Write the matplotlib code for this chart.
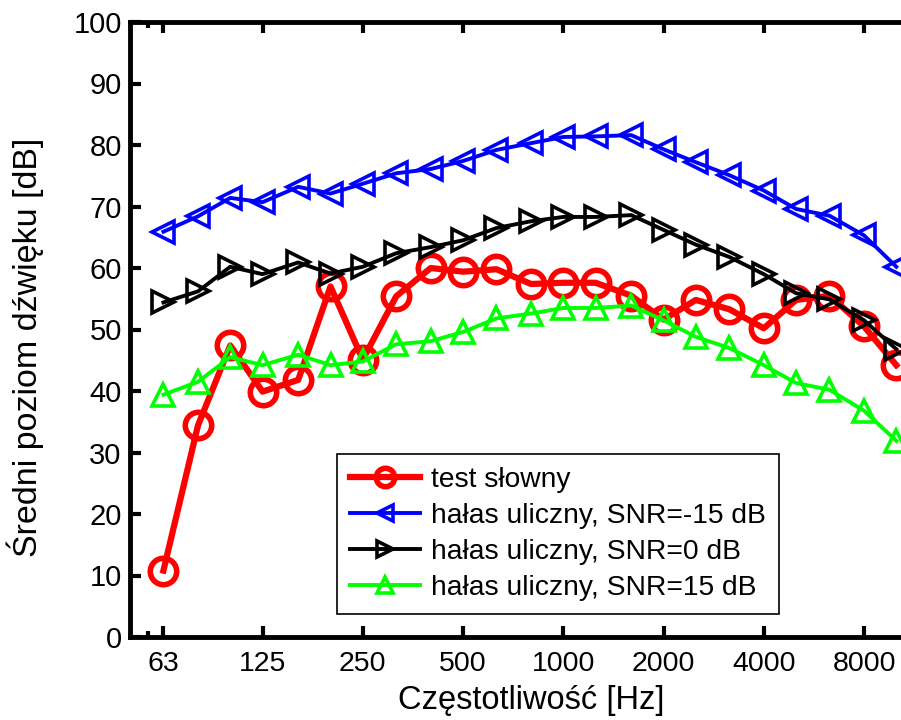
import numpy as np
import matplotlib
matplotlib.use('Agg')
from matplotlib import pyplot as plt
from matplotlib.ticker import FixedLocator, FixedFormatter, NullFormatter

# pasma tercjowe [Hz]
freq = [63, 80, 100, 125, 160, 200, 250, 315, 400, 500, 630, 800,
        1000, 1250, 1600, 2000, 2500, 3150, 4000, 5000, 6300, 8000, 10000]

test_slowny = [10.8, 34.4, 47.4, 39.9, 41.8, 57.0, 45.1, 55.4, 60.0, 59.4, 59.8, 57.4,
               57.6, 57.6, 55.5, 51.6, 54.8, 53.3, 50.2, 54.8, 55.5, 50.5, 44.2]
snr_m15 = [65.9, 68.4, 71.4, 70.7, 73.2, 72.1, 73.7, 75.4, 76.1, 77.4, 79.2, 80.3,
           81.3, 81.4, 81.6, 79.3, 77.2, 75.1, 72.6, 69.6, 68.5, 65.3, 60.2]
snr_0 = [54.4, 56.2, 60.2, 59.0, 60.9, 59.1, 60.2, 62.4, 63.4, 64.5, 66.5, 67.6,
         68.3, 68.3, 68.6, 66.2, 63.8, 61.8, 59.0, 55.9, 54.9, 51.5, 46.8]
snr_15 = [39.4, 41.5, 45.5, 44.2, 45.9, 44.2, 44.8, 47.6, 48.1, 49.6, 51.8, 52.6,
          53.5, 53.5, 53.9, 51.5, 48.8, 47.0, 44.2, 41.3, 40.2, 36.8, 31.9]

xticks = [63, 125, 250, 500, 1000, 2000, 4000, 8000]
xticklabels = ['63', '125', '250', '500', '1000', '2000', '4000', '8000']

plt.rcParams['font.family'] = ['Liberation Sans', 'DejaVu Sans']

fig = plt.figure(figsize=(9.01, 7.2), dpi=100)
ax = fig.add_axes([130 / 901, 83 / 720, 802 / 901, 615 / 720])

ax.plot(freq, test_slowny, '-o', color='red', lw=4.5, ms=19, mew=4,
        mfc='none', label='test słowny', zorder=3)
ax.plot(freq, snr_m15, '-<', color='blue', lw=2.8, ms=16.5, mew=2.6,
        mfc='none', label='hałas uliczny, SNR=-15 dB', zorder=4)
ax.plot(freq, snr_0, '->', color='black', lw=2.8, ms=16.5, mew=2.6,
        mfc='none', label='hałas uliczny, SNR=0 dB', zorder=4)
ax.plot(freq, snr_15, '-^', color='#00ff00', lw=2.8, ms=16.5, mew=2.6,
        mfc='none', label='hałas uliczny, SNR=15 dB', zorder=4)

ax.set_xscale('log')
ax.set_xlim(50, 12800)
ax.set_ylim(0, 100)
ax.xaxis.set_major_locator(FixedLocator(xticks))
ax.xaxis.set_major_formatter(FixedFormatter(xticklabels))
ax.xaxis.set_minor_locator(FixedLocator([56.7]))
ax.xaxis.set_minor_formatter(NullFormatter())
ax.set_yticks(np.arange(0, 101, 10))

ax.tick_params(axis='both', which='major', direction='in', length=8, width=3,
               top=True, right=True, labelsize=21)
ax.tick_params(axis='x', which='major', pad=10, labelsize=20.5)
ax.tick_params(axis='y', which='major', pad=6)
ax.tick_params(axis='x', which='minor', direction='in', length=4, width=3, top=True)
for sp in ax.spines.values():
    sp.set_linewidth(3.5)

ax.set_xlabel('Częstotliwość [Hz]', fontsize=23.5, labelpad=6)
ax.set_ylabel('Średni poziom dźwięku [dB]', fontsize=24.5)
ax.yaxis.set_label_coords(-0.107, 0.4715)

leg = ax.legend(loc='lower left', bbox_to_anchor=(207 / 802, 23 / 615),
                borderaxespad=0, fontsize=20.3, fancybox=False, framealpha=1,
                edgecolor='black', handlelength=2.5, labelspacing=0.36,
                markerscale=0.7, handletextpad=0.4, borderpad=0.45)
leg.get_frame().set_linewidth(1.2)

fig.savefig('out.png', dpi=100)
